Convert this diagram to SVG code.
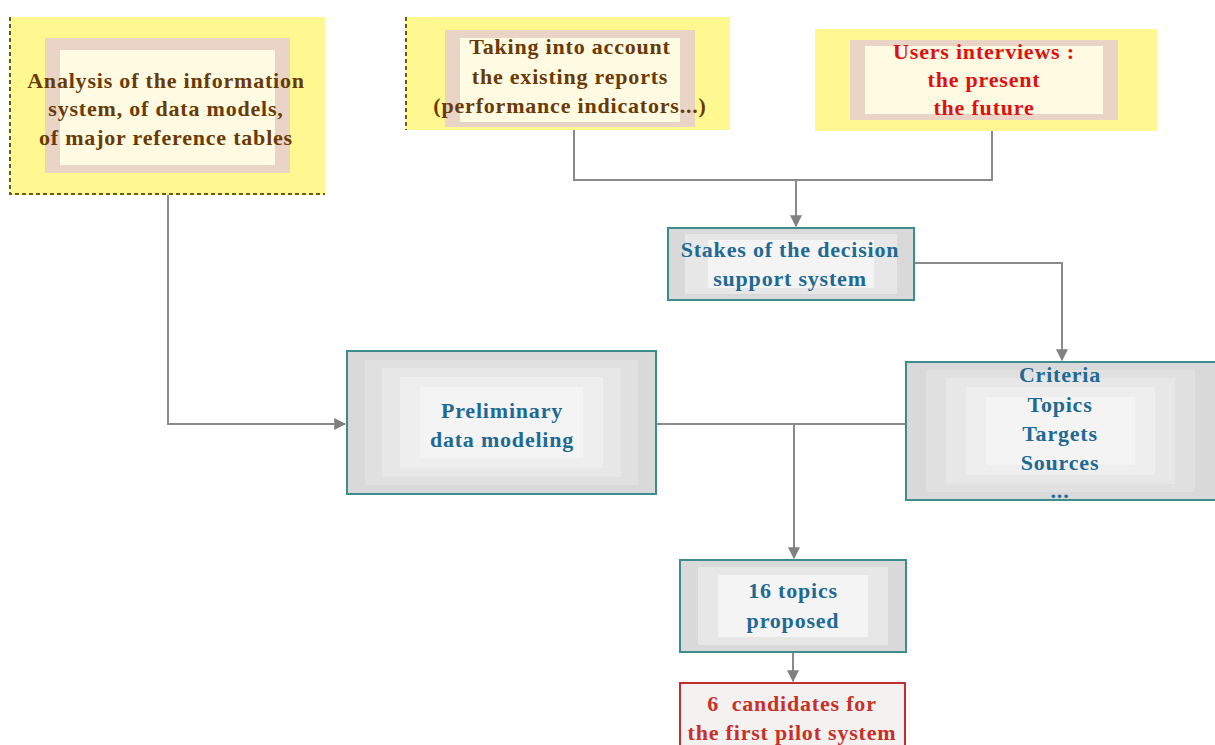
<svg xmlns="http://www.w3.org/2000/svg" width="1215" height="745" viewBox="0 0 1215 745">
<style>
.t{font-family:"Liberation Serif","Times New Roman",serif;font-weight:bold;font-size:22px;letter-spacing:0.8px;text-anchor:middle;white-space:pre}
.brown{fill:#6a3a05}
.red{fill:#e01010}
.blue{fill:#1f6a95}
.dred{fill:#c8302a}
.yel{fill:#fff890}
.pink{fill:#ead4c6}
.cream{fill:#fffbe2}
.dash{stroke:#6b5a20;stroke-width:2;stroke-dasharray:4 3;fill:none}
.conn{stroke:#8a8a8a;stroke-width:2;fill:none}
.g1{fill:#d9d9d9}.g2{fill:#e0e0e0}.g3{fill:#e7e7e7}.g4{fill:#eeeeee}.g5{fill:#f4f4f4}
.bord{fill:none;stroke:#3f8c8c;stroke-width:2}
</style>
<defs>
<marker id="arr" viewBox="0 0 10 10" refX="9" refY="5" markerWidth="6" markerHeight="6" orient="auto" markerUnits="strokeWidth">
<path d="M0,0 L10,5 L0,10 z" fill="#808080"/>
</marker>
</defs>
<rect width="1215" height="745" fill="#ffffff"/>

<g id="connectors">
<path class="conn" d="M168,195 V424 H345" marker-end="url(#arr)"/>
<path class="conn" d="M574,130 V180 H992 V131"/>
<path class="conn" d="M796,180 V226" marker-end="url(#arr)"/>
<path class="conn" d="M914,263 H1062 V360" marker-end="url(#arr)"/>
<path class="conn" d="M656,424 H906"/>
<path class="conn" d="M794,424 V558" marker-end="url(#arr)"/>
<path class="conn" d="M793,653 V681" marker-end="url(#arr)"/>
</g>

<g id="analysis">
<rect class="yel" x="10" y="17" width="315" height="178"/>
<rect class="pink" x="45" y="38" width="245" height="135"/>
<rect class="cream" x="60" y="50" width="215" height="115"/>
<path class="dash" d="M10,17 V194 H325"/>
<text class="t brown" x="166" y="88">Analysis of the information</text>
<text class="t brown" x="166" y="116">system, of data models,</text>
<text class="t brown" x="166" y="145">of major reference tables</text>
</g>

<g id="reports">
<rect class="yel" x="406" y="17" width="324" height="113"/>
<rect class="pink" x="445" y="30" width="250" height="97"/>
<rect class="cream" x="460" y="38" width="220" height="84"/>
<path class="dash" d="M406,17 V130"/>
<text class="t brown" x="570" y="54">Taking into account</text>
<text class="t brown" x="570" y="84">the existing reports</text>
<text class="t brown" x="570" y="113">(performance indicators...)</text>
</g>

<g id="interviews">
<rect class="yel" x="815" y="29" width="342" height="102"/>
<rect class="pink" x="850" y="40" width="268" height="80"/>
<rect class="cream" x="865" y="46" width="238" height="68"/>
<text class="t red" x="984" y="59">Users interviews :</text>
<text class="t red" x="984" y="87">the present</text>
<text class="t red" x="984" y="115">the future</text>
</g>

<g id="stakes">
<rect class="g1" x="668" y="228" width="246" height="72"/>
<rect class="g3" x="685" y="234" width="212" height="60"/>
<rect class="g5" x="708" y="240" width="166" height="48"/>
<rect class="bord" x="668" y="228" width="246" height="72"/>
<text class="t blue" x="790" y="257">Stakes of the decision</text>
<text class="t blue" x="790" y="286">support system</text>
</g>

<g id="preliminary">
<rect class="g1" x="347" y="351" width="309" height="143"/>
<rect class="g2" x="365" y="360" width="273" height="125"/>
<rect class="g3" x="382" y="368" width="239" height="109"/>
<rect class="g4" x="400" y="377" width="203" height="91"/>
<rect class="g5" x="420" y="387" width="163" height="71"/>
<rect class="bord" x="347" y="351" width="309" height="143"/>
<text class="t blue" x="502" y="418">Preliminary</text>
<text class="t blue" x="502" y="447">data modeling</text>
</g>

<g id="criteria">
<rect class="g1" x="906" y="362" width="309" height="138"/>
<rect class="g2" x="926" y="370" width="269" height="122"/>
<rect class="g3" x="946" y="378" width="229" height="106"/>
<rect class="g4" x="966" y="387" width="189" height="88"/>
<rect class="g5" x="986" y="397" width="149" height="68"/>
<rect class="bord" x="906" y="362" width="310" height="138"/>
<text class="t blue" x="1060" y="382">Criteria</text>
<text class="t blue" x="1060" y="412">Topics</text>
<text class="t blue" x="1060" y="441">Targets</text>
<text class="t blue" x="1060" y="470">Sources</text>
<text class="t blue" x="1060" y="498">...</text>
</g>

<g id="topics">
<rect class="g1" x="680" y="560" width="226" height="92"/>
<rect class="g3" x="698" y="567" width="190" height="78"/>
<rect class="g5" x="718" y="575" width="150" height="62"/>
<rect class="bord" x="680" y="560" width="226" height="92"/>
<text class="t blue" x="793" y="598">16 topics</text>
<text class="t blue" x="793" y="628">proposed</text>
</g>

<g id="candidates">
<rect x="680" y="683" width="225" height="70" fill="#f4f1f1" stroke="#c03030" stroke-width="2"/>
<text class="t dred" x="792" y="711">6  candidates for</text>
<text class="t dred" x="792" y="740">the first pilot system</text>
</g>
</svg>
